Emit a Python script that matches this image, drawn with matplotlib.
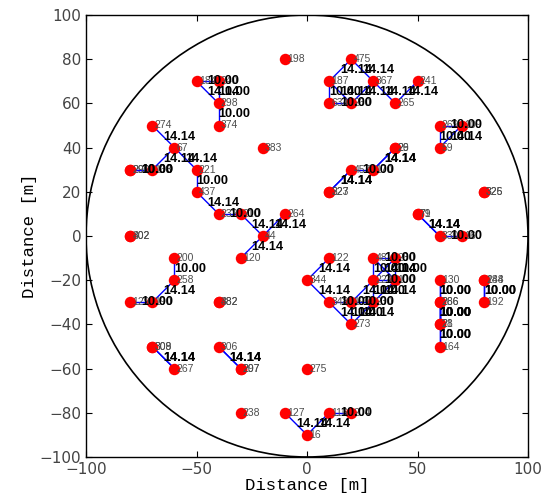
"""
Sensor node layout with links inside a 100 m radius field
"""
import numpy as np
import matplotlib
matplotlib.use('Agg')
from matplotlib import pyplot as plt
from matplotlib.patches import Circle

# Node ids and positions (m)
node_ids = ['198', '475', '187', '367', '241', '634', '260', '265',
            '184', '240', '298', '374', '274', '67', '221', '290', '299',
            '168', '437', '232', '210', '383', '264', '44', '120',
            '402', '302', '200', '258', '129', '190', '482', '382',
            '309', '308', '267', '306', '207', '297', '275', '238',
            '127', '16', '116', '204', '122', '344', '348', '191',
            '230', '273', '48', '280', '224', '100', '130', '266',
            '286', '28', '21', '164', '188', '244', '192', '326', '325',
            '79', '71', '330', '160', '457', '170', '227', '323', '26',
            '29', '59', '269', '109']
node_x = [-10, 20, 10, 30, 50, 10, 20, 40,
          -50, -40, -40, -40, -70, -60, -50, -80, -80,
          -70, -50, -40, -30, -20, -10, -20, -30,
          -80, -80, -60, -60, -80, -70, -40, -40,
          -70, -70, -60, -40, -30, -30, 0, -30,
          -10, 0, 10, 20, 10, 0, 10, 20,
          30, 20, 30, 40, 30, 40, 60, 60,
          60, 60, 60, 60, 80, 80, 80, 80, 80,
          50, 50, 60, 70, 20, 30, 10, 10, 40,
          40, 60, 60, 70]
node_y = [80, 80, 70, 70, 70, 60, 60, 60,
          70, 70, 60, 50, 50, 40, 30, 30, 30,
          30, 20, 10, 10, 40, 10, 0, -10,
          0, 0, -10, -20, -30, -30, -30, -30,
          -50, -50, -60, -50, -60, -60, -60, -80,
          -80, -90, -80, -80, -10, -20, -30, -30,
          -30, -40, -10, -10, -20, -20, -20, -30,
          -30, -40, -40, -50, -20, -20, -30, 20, 20,
          10, 10, 0, 0, 30, 30, 20, 20, 40,
          40, 40, 50, 50]

# Links between nodes
edges = [('184', '240'), ('184', '298'), ('240', '298'), ('298', '374'),
         ('475', '187'), ('475', '367'), ('187', '634'), ('187', '260'),
         ('367', '260'), ('367', '265'), ('241', '265'), ('634', '260'),
         ('274', '67'), ('67', '221'), ('67', '168'), ('290', '168'),
         ('299', '168'), ('221', '437'), ('437', '232'), ('232', '210'),
         ('210', '44'), ('44', '264'), ('44', '120'),
         ('200', '258'), ('258', '190'), ('129', '190'),
         ('309', '267'), ('308', '267'), ('306', '207'), ('306', '297'),
         ('127', '16'), ('16', '116'), ('116', '204'),
         ('122', '344'), ('344', '348'), ('348', '191'), ('348', '273'),
         ('191', '273'), ('191', '230'), ('230', '273'), ('191', '224'),
         ('230', '224'), ('230', '100'), ('48', '280'), ('48', '224'),
         ('280', '224'), ('48', '100'), ('280', '100'), ('224', '100'),
         ('130', '266'), ('130', '286'), ('266', '28'), ('286', '28'),
         ('266', '21'), ('286', '21'), ('28', '164'), ('21', '164'),
         ('188', '192'), ('244', '192'),
         ('79', '330'), ('71', '330'), ('330', '160'),
         ('457', '170'), ('457', '227'), ('457', '323'),
         ('170', '26'), ('170', '29'),
         ('269', '109'), ('269', '59'), ('109', '59')]

field_radius = 100


def main():
    """
    Draw the node map
    """
    pos = {n: (x, y) for n, x, y in zip(node_ids, node_x, node_y)}

    fig = plt.figure(figsize=(5.5, 4.96), dpi=100)
    ax = fig.add_axes([86 / 550, 39 / 496, 442 / 550, 442 / 496])

    # Field boundary
    ax.add_patch(Circle((0, 0), field_radius, fill=False, color='black', lw=1.2))

    # Links
    for a, b in edges:
        (x1, y1), (x2, y2) = pos[a], pos[b]
        ax.plot([x1, x2], [y1, y2], color='#0000ff', lw=1.0, zorder=2)

    # Nodes
    ax.scatter(node_x, node_y, s=68, color='#ff0000', linewidths=0, zorder=3)

    # Node ids
    for n, x, y in zip(node_ids, node_x, node_y):
        ax.text(x + 1, y, n, fontsize=7.5, color='#4d4d4d', family='Liberation Sans',
                ha='left', va='center', zorder=4)

    # Link lengths
    for a, b in edges:
        (x1, y1), (x2, y2) = pos[a], pos[b]
        d = np.hypot(x2 - x1, y2 - y1)
        ax.text((x1 + x2) / 2, (y1 + y2) / 2, f'{d:.2f}', fontsize=9.2,
                family='Liberation Sans', weight='bold', color='black',
                ha='left', va='center', zorder=5)

    ax.set_xlim(-100, 100)
    ax.set_ylim(-100, 100)
    ax.set_xticks([-100, -50, 0, 50, 100])
    ax.set_yticks(np.arange(-100, 101, 20))
    ax.tick_params(direction='in', top=True, right=True, length=4, width=0.8,
                   labelsize=11, labelcolor='#444444')
    for s in ax.spines.values():
        s.set_linewidth(1.0)
    ax.set_xlabel('Distance [m]', family='Liberation Mono', fontsize=12.5, labelpad=1)
    ax.set_ylabel('Distance [m]', family='Liberation Mono', fontsize=12.5, labelpad=2)

    fig.savefig('out.png', dpi=100)


if __name__ == '__main__':
    main()
